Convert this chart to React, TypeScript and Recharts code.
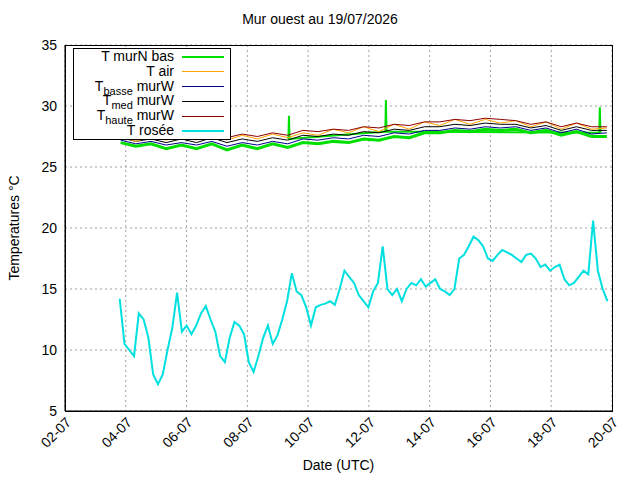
import React from 'react';
import { CartesianGrid, Line, LineChart, XAxis, YAxis } from 'recharts';

// days of July, 12-hour steps for the wall temperatures
const tempStart = 3.83;
const tMurNBas = [27.0, 26.7, 26.9, 26.5, 26.8, 26.5, 26.9, 26.4, 26.8, 26.5, 26.9, 26.6, 27.0, 26.9, 27.1, 27.0, 27.3, 27.2, 27.5, 27.4, 27.8, 27.8, 28.0, 27.9, 28.1, 28.0, 28.1, 27.8, 28.0, 27.6, 27.9, 27.5, 27.5];
const tBasseMurW = [27.2, 26.9, 27.1, 26.8, 27.0, 26.8, 27.1, 26.7, 27.0, 26.8, 27.1, 26.9, 27.3, 27.2, 27.4, 27.3, 27.6, 27.5, 27.8, 27.7, 28.0, 28.0, 28.2, 28.1, 28.3, 28.2, 28.3, 28.0, 28.2, 27.8, 28.1, 27.7, 27.8];
const tMedMurW = [27.4, 27.1, 27.3, 27.0, 27.3, 27.0, 27.4, 27.0, 27.3, 27.1, 27.4, 27.2, 27.6, 27.5, 27.7, 27.6, 27.9, 27.8, 28.1, 28.0, 28.3, 28.3, 28.5, 28.4, 28.6, 28.5, 28.5, 28.2, 28.4, 28.0, 28.3, 28.0, 28.0];
const tAir = [27.5, 27.1, 27.5, 27.2, 27.6, 27.2, 27.7, 27.2, 27.6, 27.3, 27.7, 27.4, 27.8, 27.6, 28.1, 27.8, 28.3, 27.9, 28.5, 28.1, 28.7, 28.4, 28.9, 28.5, 28.9, 28.6, 28.8, 28.3, 28.7, 28.1, 28.6, 28.1, 28.2];
const tHauteMurW = [27.7, 27.4, 27.6, 27.3, 27.6, 27.4, 27.7, 27.4, 27.7, 27.5, 27.8, 27.6, 28.0, 27.9, 28.1, 28.0, 28.3, 28.2, 28.5, 28.4, 28.7, 28.7, 28.9, 28.8, 29.0, 28.9, 28.8, 28.5, 28.7, 28.3, 28.6, 28.3, 28.3];
const greenSpikes = [[9.35, 27.3], [9.37, 29.2], [9.39, 27.3], [12.54, 27.9], [12.56, 30.5], [12.58, 27.9], [19.58, 27.8], [19.6, 29.9], [19.62, 27.8]];

// dew point, ~4-hour steps
const roseeStart = 3.8;
const roseeEnd = 19.85;
const tRosee = [14.2, 10.5, 10, 9.5, 13, 12.5, 11, 8, 7.2, 8, 10, 11.8, 14.7, 11.5, 12, 11.3, 12, 13, 13.6, 12.5, 11.5, 9.5, 9, 11, 12.3, 12, 11.3, 9, 8.2, 9.5, 11, 12, 10.5, 11.2, 12.5, 14, 16.3, 14.8, 14.5, 13.5, 12, 13.5, 13.7, 13.8, 14, 13.7, 15, 16.5, 16, 15.5, 14.5, 14, 13.5, 14.8, 15.5, 18.5, 15, 14.5, 15, 14, 15, 15.5, 15.3, 15.8, 15.2, 15.5, 15.8, 15, 14.8, 14.5, 15, 17.5, 17.8, 18.5, 19.3, 19, 18.5, 17.5, 17.3, 17.8, 18.2, 18, 17.8, 17.5, 17.2, 17.8, 17.9, 17.5, 16.8, 17, 16.5, 16.8, 17, 15.8, 15.3, 15.5, 16, 16.5, 16.2, 20.6, 16.5, 15, 14];

const xTicks = [2, 4, 6, 8, 10, 12, 14, 16, 18, 20];
const yTicks = [5, 10, 15, 20, 25, 30, 35];

const tempData = tMurNBas.map((v, i) => ({
	d: tempStart + i * 0.5,
	bas: v,
	basse: tBasseMurW[i],
	med: tMedMurW[i],
	air: tAir[i],
	haute: tHauteMurW[i],
}));
const spikeData = greenSpikes.map(([d, v]) => ({ d, bas: v }));
const roseeStep = (roseeEnd - roseeStart) / (tRosee.length - 1);
const roseeData = tRosee.map((v, i) => ({ d: roseeStart + i * roseeStep, rosee: v }));

const font = '"Liberation Sans", Arial, sans-serif';

const XTick = ({ x, y, payload }: any) => (
	<text x={x} y={y} transform={`rotate(-45 ${x} ${y})`} textAnchor="end" dy={8} dx={2} fontSize={14} fontFamily={font}>
		{String(payload.value).padStart(2, '0')}-07
	</text>
);

const subStyle = { fontSize: 11, verticalAlign: '-4px', lineHeight: 0 };

const legend: [React.ReactNode, string, number][] = [
	['T murN bas', '#00e000', 2],
	['T air', '#ffa500', 1],
	[<>T<span style={subStyle}>basse</span> murW</>, '#00008b', 1],
	[<>T<span style={subStyle}>med</span> murW</>, '#000000', 1],
	[<>T<span style={subStyle}>haute</span> murW</>, '#8b0000', 1],
	['T rosée', '#00e0e0', 2],
];

const App = () => (
	<div style={{ position: 'absolute', left: 0, top: 0, width: 640, height: 480, background: '#fff', fontFamily: font }}>
		<LineChart width={640} height={480} margin={{ top: 45, right: 28, bottom: 39, left: 8 }}>
			<CartesianGrid stroke="#a0a0a0" strokeDasharray="2 3" />
			<XAxis type="number" dataKey="d" domain={[2, 20]} ticks={xTicks} tick={<XTick />} height={30} stroke="#000" tickLine={false} allowDuplicatedCategory={false} />
			<YAxis type="number" domain={[5, 35]} ticks={yTicks} width={57} tick={{ fontSize: 14, fill: '#000', fontFamily: font }} stroke="#000" tickLine={false} />
			<Line data={tempData} dataKey="bas" stroke="#00e000" strokeWidth={3} dot={false} isAnimationActive={false} />
			<Line data={spikeData} dataKey="bas" stroke="#00e000" strokeWidth={2} dot={false} isAnimationActive={false} />
			<Line data={tempData} dataKey="basse" stroke="#00008b" strokeWidth={1} dot={false} isAnimationActive={false} />
			<Line data={tempData} dataKey="med" stroke="#000000" strokeWidth={1} dot={false} isAnimationActive={false} />
			<Line data={tempData} dataKey="air" stroke="#ffa500" strokeWidth={1} dot={false} isAnimationActive={false} />
			<Line data={tempData} dataKey="haute" stroke="#8b0000" strokeWidth={1} dot={false} isAnimationActive={false} />
			<Line data={roseeData} dataKey="rosee" stroke="#00e0e0" strokeWidth={2} dot={false} isAnimationActive={false} />
		</LineChart>
		<div style={{ position: 'absolute', left: 65, top: 45, width: 548, height: 367, border: '1px solid #000', boxSizing: 'border-box', pointerEvents: 'none' }} />
		<div style={{ position: 'absolute', top: 11, left: 0, width: 640, textAlign: 'center', fontSize: 14 }}>Mur ouest au 19/07/2026</div>
		<div style={{ position: 'absolute', top: 457, left: 65, width: 547, textAlign: 'center', fontSize: 14 }}>Date (UTC)</div>
		<div style={{ position: 'absolute', left: 14, top: 228, transform: 'translate(-50%, -50%) rotate(-90deg)', fontSize: 14, whiteSpace: 'nowrap' }}>Temperatures °C</div>
		<div style={{ position: 'absolute', left: 73, top: 48, width: 158, height: 92, border: '1px solid #000', background: '#fff', boxSizing: 'border-box' }}>
			{legend.map(([label, color, w], i) => (
				<div key={i} style={{ position: 'absolute', top: 0 + i * 14.8, left: 0, width: 158, height: 15, fontSize: 14, lineHeight: '15px' }}>
					<span style={{ position: 'absolute', right: 58, whiteSpace: 'nowrap' }}>{label}</span>
					<span style={{ position: 'absolute', left: 108, width: 42, top: 8 - w / 2, height: w, background: color }} />
				</div>
			))}
		</div>
	</div>
);

export default App;
